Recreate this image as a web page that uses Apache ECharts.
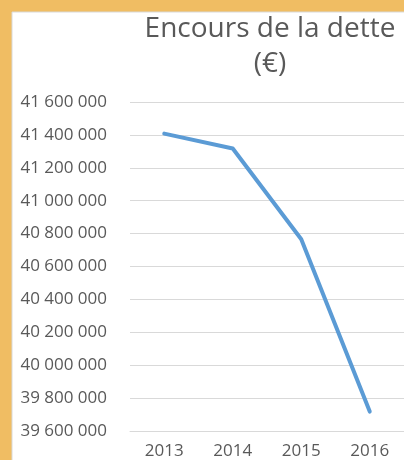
<!DOCTYPE html>
<html>
<head>
<meta charset="utf-8">
<script src="https://cdn.jsdelivr.net/npm/echarts@6/dist/echarts.min.js"></script>
<style>
  html, body { margin: 0; padding: 0; overflow: hidden; }
  #main { width: 404px; height: 460px; }
</style>
</head>
<body>
<div id="main"></div>
<script>
var years = ['2013', '2014', '2015', '2016'];
var encours = [41408000, 41317000, 40766000, 39718000];
var yMin = 39600000;
var yMax = 41600000;
var yStep = 200000;

var chartDom = document.getElementById('main');
var myChart = echarts.init(chartDom);
var option;

// thousands separated by a space, like the original
function spaced(v) {
  return String(v).replace(/\B(?=(\d{3})+(?!\d))/g, ' ');
}

option = {
  backgroundColor: '#f0bd63',
  animation: false,
  graphic: [
    {
      type: 'rect',
      shape: { x: 12, y: 12, width: 400, height: 460 },
      style: { fill: '#ffffff', stroke: '#d9d9d9', lineWidth: 1 },
      z: -10
    },
    {
      type: 'text',
      x: 270,
      y: 12,
      style: {
        text: 'Encours de la dette\n(€)',
        font: '28px "Open Sans"',
        fill: '#595959',
        align: 'center',
        verticalAlign: 'top',
        lineHeight: 35
      }
    }
  ],
  grid: { left: 130, right: -6, top: 102, bottom: 27 },
  xAxis: {
    type: 'category',
    data: years,
    axisLine: { lineStyle: { color: '#d9d9d9' } },
    axisTick: { show: false },
    axisLabel: { color: '#595959', fontFamily: 'Open Sans', fontSize: 17, margin: 12 }
  },
  yAxis: {
    type: 'value',
    min: yMin,
    max: yMax,
    interval: yStep,
    axisLine: { show: false },
    axisTick: { show: false },
    splitLine: { lineStyle: { color: '#d9d9d9', width: 1 } },
    axisLabel: {
      color: '#595959',
      fontFamily: 'Open Sans',
      fontSize: 17,
      margin: 23,
      formatter: spaced
    }
  },
  series: [
    {
      type: 'line',
      data: encours,
      symbol: 'none',
      lineStyle: { color: '#5b9bd5', width: 4, cap: 'round', join: 'round' }
    }
  ]
};

option && myChart.setOption(option);
</script>
</body>
</html>
